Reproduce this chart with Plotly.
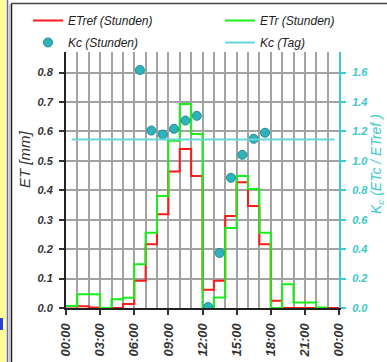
import plotly.graph_objects as go

# ---------------- data ----------------
hours_edges = list(range(25))                     # 0..24 h
etref_hourly = [0.005, 0.006, 0.002, 0.0, 0.0, 0.014, 0.093, 0.217, 0.319, 0.464,
                0.540, 0.449, 0.062, 0.093, 0.313, 0.427, 0.347, 0.217, 0.025, 0.0,
                0.0, 0.0, 0.0, 0.0]
etr_hourly = [0.007, 0.047, 0.047, 0.0, 0.030, 0.035, 0.149, 0.256, 0.381, 0.568,
              0.693, 0.591, 0.0, 0.036, 0.272, 0.449, 0.404, 0.256, 0.0, 0.081,
              0.019, 0.019, 0.002]
kc_hours = [6.5, 7.5, 8.5, 9.5, 10.5, 11.5, 12.5, 13.5, 14.5, 15.5, 16.5, 17.5]
kc_hourly = [1.618, 1.206, 1.179, 1.218, 1.274, 1.306, 0.007, 0.374, 0.885, 1.041, 1.150, 1.191]
kc_day_x = [0.5, 23.6]
kc_day = [1.145, 1.145]
x_tickvals = [0, 3, 6, 9, 12, 15, 18, 21, 24]
x_ticklabels = ["00:00", "03:00", "06:00", "09:00", "12:00", "15:00", "18:00", "21:00", "00:00"]

# ---------------- figure ----------------
W, H = 387, 362
ML, MR, MT, MB = 66, 48, 52, 54
PW, PH = W - ML - MR, H - MT - MB


def px(x):
    return (x - ML) / PW


def py(y):
    return (H - MB - y) / PH


CYAN = "#3cc8cc"
GRID = "#a3a3a3"
TXT = "#333333"
FONT = "Liberation Sans, Arial, sans-serif"

fig = go.Figure()
fig.add_trace(go.Scatter(
    x=hours_edges, y=etref_hourly + [etref_hourly[-1]], mode="lines", line_shape="hv",
    line=dict(color="#ff1a1a", width=2), name="ETref (Stunden)",
    legend="legend", legendgroup="a"))
fig.add_trace(go.Scatter(
    x=hours_edges[:len(etr_hourly) + 1], y=etr_hourly + [etr_hourly[-1]], mode="lines",
    line_shape="hv", line=dict(color="#1aee1a", width=2), name="ETr (Stunden)",
    legend="legend2", legendgroup="b"))
fig.add_trace(go.Scatter(
    x=kc_hours, y=kc_hourly, mode="markers", yaxis="y2", name="Kc (Stunden)",
    marker=dict(size=9, color="#2fb3bb", line=dict(color="#1d8d93", width=1)),
    legend="legend", legendgroup="c"))
fig.add_trace(go.Scatter(
    x=kc_day_x, y=kc_day, mode="lines", yaxis="y2", name="Kc (Tag)",
    line=dict(color="#66d8d8", width=2), legend="legend2", legendgroup="d"))

legend_common = dict(orientation="v", yanchor="top", xanchor="left",
                     font=dict(size=12, style="italic", color="#222"),
                     bgcolor="rgba(0,0,0,0)", itemwidth=30, tracegroupgap=3)

fig.update_layout(
    width=W, height=H,
    margin=dict(l=ML, r=MR, t=MT, b=MB, pad=0, autoexpand=False),
    paper_bgcolor="white", plot_bgcolor="white",
    font=dict(family=FONT, color=TXT),
    showlegend=True,
    legend=dict(x=px(28), y=py(6), **legend_common),
    legend2=dict(x=px(220), y=py(6), **legend_common),
    xaxis=dict(range=[0, 24], tickvals=x_tickvals, ticktext=x_ticklabels,
               tickangle=-90, ticks="outside", ticklen=5, tickwidth=1.5, tickcolor=TXT,
               tickfont=dict(size=13, weight="bold", style="italic", color=TXT),
               showgrid=True, gridcolor=GRID, gridwidth=1.5,
               minor=dict(dtick=1, showgrid=True, gridcolor=GRID, gridwidth=1.5, ticks=""),
               showline=True, linecolor="#222", linewidth=2, zeroline=False,
               layer="below traces", fixedrange=True, ticklabelstandoff=3),
    yaxis=dict(range=[0, 0.87], dtick=0.1, tick0=0, tickformat=".1f",
               ticks="outside", ticklen=5, tickwidth=1.5, tickcolor=TXT,
               tickfont=dict(size=11, weight="bold", style="italic", color=TXT),
               showgrid=True, gridcolor=GRID, gridwidth=1.5,
               showline=True, linecolor="#222", linewidth=2, zeroline=False,
               ticklabelstandoff=4, layer="below traces"),
    yaxis2=dict(range=[0, 1.74], dtick=0.2, tick0=0, tickformat=".1f",
                overlaying="y", side="right", showgrid=False, zeroline=False,
                ticks="outside", ticklen=5, tickwidth=1.5, tickcolor=CYAN,
                tickfont=dict(size=11, weight="bold", style="italic", color=CYAN),
                showline=True, linecolor=CYAN, linewidth=2, ticklabelstandoff=4),
)

# axis titles as annotations
fig.add_annotation(x=px(24), y=py(160), xref="paper", yref="paper", text="ET [mm]",
                   textangle=-90, showarrow=False, xanchor="center", yanchor="middle",
                   font=dict(size=15, style="italic", color=TXT))
fig.add_annotation(x=px(377), y=py(164), xref="paper", yref="paper",
                   text="K<sub>c</sub> (ETc / ETref )", textangle=-90, showarrow=False,
                   xanchor="center", yanchor="middle",
                   font=dict(size=14, style="italic", color=CYAN))

# outer frame decoration
fig.add_shape(type="rect", xref="paper", yref="paper", x0=px(0), x1=px(7), y0=py(H), y1=py(0),
              line=dict(width=0), fillcolor="#ffff9c", layer="below")
fig.add_shape(type="line", xref="paper", yref="paper", x0=px(7.5), x1=px(7.5), y0=py(H), y1=py(0),
              line=dict(color="#6a6ad0", width=1.5))
fig.add_shape(type="line", xref="paper", yref="paper", x0=px(9.5), x1=px(9.5), y0=py(H), y1=py(4),
              line=dict(color="#c8c8c8", width=1.5))
fig.add_shape(type="line", xref="paper", yref="paper", x0=px(11.5), x1=px(11.5), y0=py(H), y1=py(3.5),
              line=dict(color="#222", width=1.5))
fig.add_shape(type="line", xref="paper", yref="paper", x0=px(11.5), x1=px(W), y0=py(3.5), y1=py(3.5),
              line=dict(color="#444", width=1.5))
fig.add_shape(type="rect", xref="paper", yref="paper", x0=px(0), x1=px(3), y0=py(330), y1=py(318),
              line=dict(width=0), fillcolor="#2040e0")

fig.write_html("out.html", config={"displayModeBar": False},
               post_script="document.body.style.margin='0';document.body.style.overflow='hidden';")
